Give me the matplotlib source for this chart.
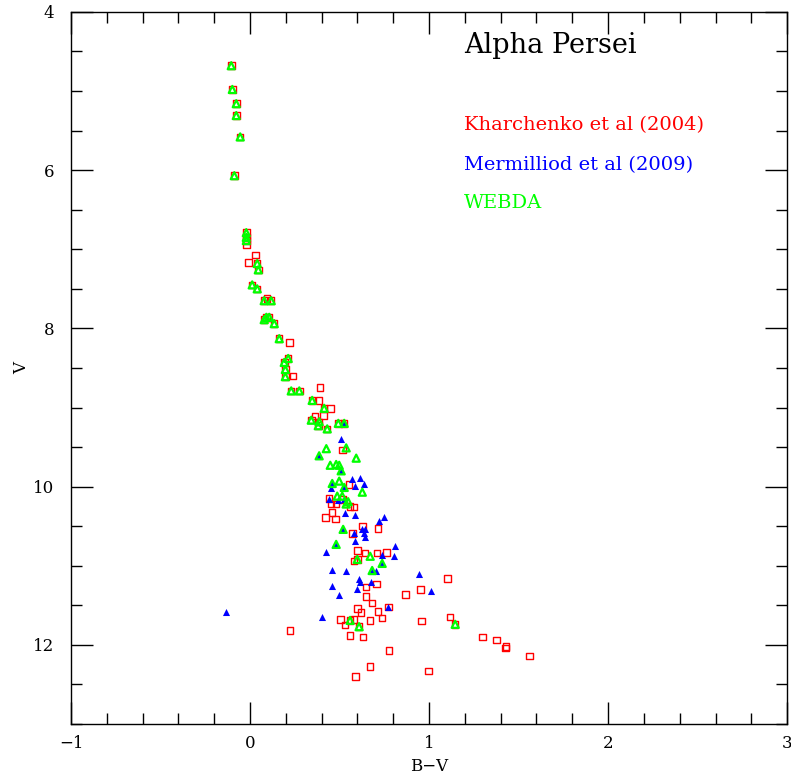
import matplotlib
matplotlib.use("Agg")
import matplotlib.pyplot as plt
from matplotlib.ticker import MultipleLocator

# WEBDA (open green triangles)
webda_bv = [-0.105, -0.099, -0.077, -0.077, -0.055, -0.088, -0.021, -0.021, -0.021,
            0.040, 0.046, 0.012, 0.040, 0.079, 0.118, 0.079, 0.091, 0.107, 0.135,
            0.163, 0.213, 0.191, 0.197, 0.197, 0.230, 0.275, 0.347, 0.414, 0.342,
            0.386, 0.381, 0.431, 0.493, 0.526, 0.426, 0.537, 0.386, 0.593, 0.448,
            0.481, 0.498, 0.509, 0.459, 0.498, 0.526, 0.627, 0.487, 0.515, 0.548,
            0.537, 0.520, 0.481, 0.671, 0.599, 0.738, 0.682, 0.559, 0.609, 1.146]
webda_v = [4.68, 4.98, 5.16, 5.31, 5.58, 6.07, 6.79, 6.85, 6.89,
           7.18, 7.26, 7.45, 7.50, 7.65, 7.65, 7.89, 7.86, 7.86, 7.94,
           8.13, 8.38, 8.43, 8.52, 8.61, 8.79, 8.79, 8.91, 9.01, 9.16,
           9.18, 9.23, 9.27, 9.20, 9.20, 9.52, 9.51, 9.61, 9.64, 9.73,
           9.72, 9.73, 9.80, 9.96, 9.93, 10.01, 10.07, 10.12, 10.12, 10.19,
           10.22, 10.54, 10.73, 10.88, 10.92, 10.97, 11.06, 11.69, 11.77, 11.74]

# Kharchenko et al (2004) (open red squares)
kh_bv = [-0.105, -0.099, -0.077, -0.077, -0.055, -0.088, -0.021, -0.021, -0.021,
         0.040, 0.046, 0.012, 0.040, 0.079, 0.118, 0.079, 0.091, 0.107, 0.135,
         0.163, 0.213, 0.191, 0.197, 0.197, 0.230, 0.275, 0.347, 0.414, 0.342,
         0.386, 0.381, 0.431, 0.493, 0.526, 0.599, 0.559, 0.609, 1.146,
         -0.021, 0.029, -0.010, 0.096, 0.219, 0.241, 0.392, 0.386, 0.448, 0.364,
         0.409, 0.515, 0.554, 0.442, 0.515, 0.453, 0.481, 0.559, 0.581, 0.420,
         0.459, 0.476, 0.627, 0.716, 0.571, 0.599, 0.643, 0.710, 0.761, 0.581,
         1.102, 0.705, 0.649, 0.649, 0.682, 0.772, 0.599, 0.621, 0.716, 0.504,
         0.581, 0.671, 0.738, 0.531, 0.224, 0.559, 0.632, 0.777, 0.671, 0.588,
         0.951, 0.867, 0.957, 1.118, 1.297, 1.376, 1.431, 1.426, 1.560, 0.996]
kh_v = [4.68, 4.98, 5.16, 5.31, 5.58, 6.07, 6.79, 6.85, 6.89,
        7.18, 7.26, 7.45, 7.50, 7.65, 7.65, 7.89, 7.86, 7.86, 7.94,
        8.13, 8.38, 8.43, 8.52, 8.61, 8.79, 8.79, 8.91, 9.01, 9.16,
        9.18, 9.23, 9.27, 9.20, 9.20, 10.92, 11.69, 11.77, 11.74,
        6.94, 7.07, 7.17, 7.62, 8.18, 8.60, 8.75, 8.91, 9.01, 9.11,
        9.10, 9.54, 9.97, 10.15, 10.16, 10.22, 10.22, 10.25, 10.26, 10.39,
        10.33, 10.41, 10.50, 10.53, 10.59, 10.81, 10.84, 10.84, 10.83, 10.94,
        11.16, 11.23, 11.27, 11.39, 11.47, 11.52, 11.54, 11.59, 11.58, 11.68,
        11.68, 11.69, 11.66, 11.75, 11.82, 11.88, 11.90, 12.07, 12.27, 12.40,
        11.30, 11.36, 11.70, 11.65, 11.90, 11.94, 12.02, 12.04, 12.14, 12.33]

# Mermilliod et al (2009) (filled blue triangles)
mer_bv = [0.526, 0.386, 0.509, 0.459, 0.526, 0.520, 0.481, 0.738, 0.682,
          0.509, 0.571, 0.616, 0.638, 0.453, 0.587, 0.492, 0.526, 0.442, 0.531,
          0.587, 0.722, 0.750, 0.627, 0.643, 0.581, 0.638, 0.643, 0.587, 0.426,
          0.811, 0.738, 0.806, 0.459, 0.537, 0.705, 0.945, 0.609, 0.615, 0.677,
          0.459, 0.599, 1.012, 0.498, 0.772, -0.133, 0.403]
mer_v = [9.20, 9.61, 9.80, 9.96, 10.01, 10.54, 10.73, 10.97, 11.06,
         9.40, 9.90, 9.89, 9.97, 10.02, 9.99, 10.17, 10.16, 10.15, 10.33,
         10.36, 10.44, 10.39, 10.53, 10.53, 10.58, 10.58, 10.64, 10.69, 10.82,
         10.75, 10.86, 10.88, 11.05, 11.06, 11.06, 11.10, 11.17, 11.21, 11.20,
         11.25, 11.30, 11.32, 11.37, 11.52, 11.59, 11.65]

fnt = "DejaVu Serif"
plt.rcParams["font.family"] = fnt

fig = plt.figure(figsize=(7.91, 7.78), dpi=100)
ax = fig.add_axes([0.0898, 0.0694, 0.9053, 0.9153])

ax.scatter(kh_bv, kh_v, marker="s", s=22, facecolors="none",
           edgecolors="#ff0000", linewidths=1.0, zorder=2)
ax.scatter(mer_bv, mer_v, marker="^", s=26, color="#0000ff",
           linewidths=0, zorder=3)
ax.scatter(webda_bv, webda_v, marker="^", s=26, facecolors="none",
           edgecolors="#00ff00", linewidths=1.6, zorder=4)

ax.set_xlim(-1, 3)
ax.set_ylim(13, 4)
ax.xaxis.set_major_locator(MultipleLocator(1))
ax.xaxis.set_minor_locator(MultipleLocator(0.2))
ax.yaxis.set_major_locator(MultipleLocator(2))
ax.yaxis.set_minor_locator(MultipleLocator(0.5))
ax.tick_params(which="both", direction="in", top=True, right=True, width=1)
ax.tick_params(which="major", length=16)
ax.tick_params(which="minor", length=8)
ax.tick_params(axis="x", which="major", pad=8, labelsize=12)
ax.tick_params(axis="y", which="major", pad=12, labelsize=12)
for sp in ax.spines.values():
    sp.set_linewidth(1)

ax.set_xlabel("B\u2212V", fontsize=12, labelpad=4)
ax.set_ylabel("V", fontsize=12, labelpad=2)

ax.text(1.197, 4.42, "Alpha Persei", fontsize=19.5, va="center", ha="left")
ax.text(1.197, 5.43, "Kharchenko et al (2004)", fontsize=14, color="#ff0000",
        va="center", ha="left")
ax.text(1.197, 5.93, "Mermilliod et al (2009)", fontsize=14, color="#0000ff",
        va="center", ha="left")
ax.text(1.197, 6.42, "WEBDA", fontsize=14, color="#00ff00",
        va="center", ha="left")

plt.savefig("out.png", dpi=100)
plt.close()
